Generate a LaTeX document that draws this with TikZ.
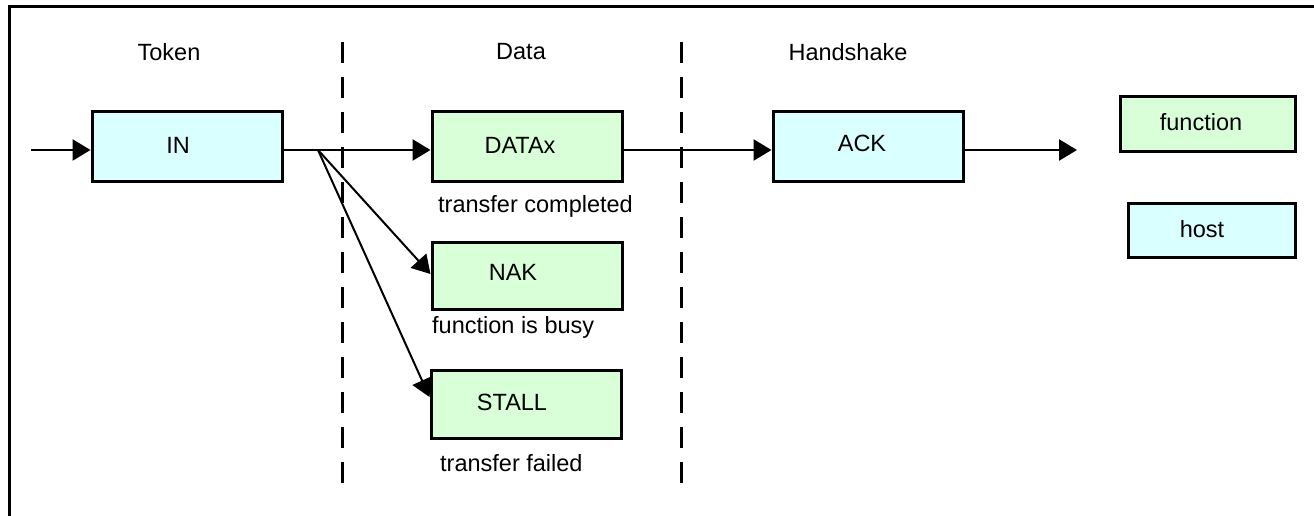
\documentclass[tikz,border=0pt]{standalone}
\usepackage{fontspec}
\setmainfont{Liberation Sans}
\usetikzlibrary{arrows.meta}
\definecolor{hostfill}{HTML}{D9FFFF}
\definecolor{funcfill}{HTML}{D9FFD9}
\tikzset{
  box/.style={draw=black, line width=3pt, minimum width=190pt, minimum height=69pt, inner sep=0pt},
  hostbox/.style={box, fill=hostfill},
  funcbox/.style={box, fill=funcfill},
  keybox/.style={draw=black, line width=3pt, inner sep=0pt, minimum height=54pt},
  lbl/.style={font=\fontsize{23.5}{28}\selectfont, inner sep=0pt},
  flow/.style={line width=2.6pt, -{Triangle[length=18pt,width=21pt]}},
  branch/.style={line width=2pt, -{Triangle[length=18pt,width=21pt]}},
  phase/.style={line width=3pt, dash pattern=on 21pt off 14pt},
  frame/.style={line width=3pt}
}
\begin{document}
\begin{tikzpicture}[x=1pt,y=-1pt]
\useasboundingbox (0,0) rectangle (1314,516);
% outer frame (top and left edges)
\draw[frame] (9,516) -- (9,7) -- (1314,7);

% phase headings
\node[lbl] (tok) at (169,52) {Token};
\node[lbl] (dat) at (521,52) {Data};
\node[lbl] (hs) at (848,52) {Handshake};

% phase separators
\draw[phase] (342,42) -- (342,492);
\draw[phase] (681,42) -- (681,492);

% packets
\node[hostbox, label={[lbl,xshift=-9pt,yshift=1.5pt]center:IN}] (in) at (187,146.5) {};
\node[funcbox, label={[lbl,xshift=-7pt,yshift=1.5pt]center:DATAx}] (data) at (527,146.5) {};
\node[funcbox, minimum height=67pt, label={[lbl,xshift=-14pt,yshift=3.5pt]center:NAK}] (nak) at (527,275.5) {};
\node[funcbox, minimum height=68pt, label={[lbl,xshift=-14pt,yshift=2pt]center:STALL}] (stall) at (526,404) {};
\node[hostbox, label={[lbl,xshift=-6pt,yshift=3pt]center:ACK}] (ack) at (868,146.5) {};

% outcome notes
\node[lbl, anchor=west] (ok) at (438,206) {transfer completed};
\node[lbl, anchor=west] (busy) at (432,327) {function is busy};
\node[lbl, anchor=west] (fail) at (440,463) {transfer failed};

% legend
\node[keybox, fill=funcfill, minimum width=175pt] (kf) at (1207.5,124) {};
\node[lbl] at (1201,122) {function};
\node[keybox, fill=hostfill, minimum width=167pt] (kh) at (1211.5,230) {};
\node[lbl] at (1202,229) {host};

% flow along the main row
\coordinate (row) at (0,150);
\coordinate (start) at (31,150);
\coordinate (fork) at (318,150);
\coordinate (done) at (1077,150);
\draw[flow] (start) -- (in.west |- row);
\draw[flow] (in.east |- row) -- (data.west |- row);
\draw[branch] (fork) -- ([yshift=1.5pt]nak.west);
\draw[branch] (fork) -- ([yshift=7pt]stall.west);
\draw[flow] (data.east |- row) -- (ack.west |- row);
\draw[flow] (ack.east |- row) -- (done);
\end{tikzpicture}
\end{document}
